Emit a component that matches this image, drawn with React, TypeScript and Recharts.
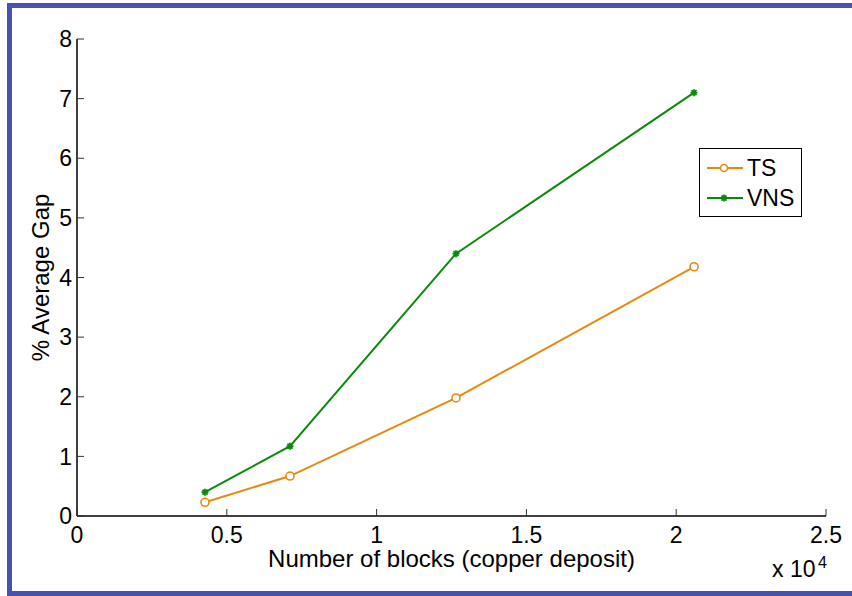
import { LineChart, Line, XAxis, YAxis, Legend } from "recharts";

// Average gap (%) of each heuristic against problem size
const blocks = [4272, 7110, 12650, 20595];
const tsGap = [0.23, 0.67, 1.98, 4.18];
const vnsGap = [0.4, 1.17, 4.4, 7.1];

const xTicks = [0, 5000, 10000, 15000, 20000, 25000];
const yTicks = [0, 1, 2, 3, 4, 5, 6, 7, 8];

const ORANGE = "#E8890C";
const GREEN = "#0A8A0A";
const FONT = "'Liberation Sans', Arial, Helvetica, sans-serif";
const FS = 23;
const LABEL_FS = 24;

// inward tick marks, matlab style
const TICK_LEN = 7;
const X_GAP = 11;
const Y_GAP = 5;

const data = blocks.map((b, i) => ({ blocks: b, ts: tsGap[i], vns: vnsGap[i] }));

function StarDot(props: any) {
  const { cx, cy } = props;
  if (cx == null || cy == null) return null;
  const r = 3.5;
  const d = r * 0.72;
  return (
    <g stroke={GREEN} strokeWidth={1.8}>
      <line x1={cx - r} y1={cy} x2={cx + r} y2={cy} />
      <line x1={cx} y1={cy - r} x2={cx} y2={cy + r} />
      <line x1={cx - d} y1={cy - d} x2={cx + d} y2={cy + d} />
      <line x1={cx - d} y1={cy + d} x2={cx + d} y2={cy - d} />
    </g>
  );
}

function BottomTick(props: any) {
  const { x, y, payload } = props;
  const axisY = y - X_GAP;
  return (
    <g>
      <line x1={x} y1={axisY} x2={x} y2={axisY - TICK_LEN} stroke="#333" strokeWidth={1} />
      <text x={x} y={y} dy="0.71em" textAnchor="middle" fontFamily={FONT} fontSize={FS} fill="#000">
        {String(payload.value / 10000)}
      </text>
    </g>
  );
}

function TopTick(props: any) {
  const { x, y } = props;
  return <line x1={x} y1={y} x2={x} y2={y + TICK_LEN} stroke="#333" strokeWidth={1} />;
}

function LeftTick(props: any) {
  const { x, y, payload } = props;
  const axisX = x + Y_GAP;
  return (
    <g>
      <line x1={axisX} y1={y} x2={axisX + TICK_LEN} y2={y} stroke="#333" strokeWidth={1} />
      <text x={x} y={y} dy="0.355em" textAnchor="end" fontFamily={FONT} fontSize={FS} fill="#000">
        {payload.value}
      </text>
    </g>
  );
}

function RightTick(props: any) {
  const { x, y } = props;
  return <line x1={x} y1={y} x2={x - TICK_LEN} y2={y} stroke="#333" strokeWidth={1} />;
}

function GapLegend() {
  const rows = [
    { name: "TS", color: ORANGE, y: 20 },
    { name: "VNS", color: GREEN, y: 50 },
  ];
  return (
    <svg width={103} height={69} style={{ display: "block" }}>
      <rect x={0.5} y={0.5} width={102} height={68} fill="#fff" stroke="#000" strokeWidth={1} />
      {rows.map((r) => (
        <g key={r.name}>
          <line x1={8} y1={r.y} x2={44} y2={r.y} stroke={r.color} strokeWidth={2} />
          {r.name === "TS" ? (
            <circle cx={25} cy={r.y} r={3.5} fill="#fff" stroke={ORANGE} strokeWidth={1.6} />
          ) : (
            <StarDot cx={25} cy={r.y} />
          )}
          <text x={48} y={r.y} dominantBaseline="central" fontFamily={FONT} fontSize={FS} fill="#000">
            {r.name}
          </text>
        </g>
      ))}
    </svg>
  );
}

const axisLine = { stroke: "#000", strokeWidth: 1.5 };

export default function App() {
  return (
    <div
      style={{
        position: "absolute",
        left: 0,
        top: 0,
        width: 852,
        height: 596,
        background: "#fff",
        overflow: "hidden",
      }}
    >
      <div
        style={{
          position: "absolute",
          left: 7,
          top: 3,
          width: 900,
          height: 593,
          border: "5px solid #4A4FB3",
          boxSizing: "border-box",
        }}
      />
      <LineChart
        width={852}
        height={596}
        data={data}
        margin={{ top: 39, right: 26, bottom: 50, left: 3 }}
      >
        <XAxis
          type="number"
          dataKey="blocks"
          domain={[0, 25000]}
          ticks={xTicks}
          interval={0}
          height={30}
          tickSize={0}
          tickMargin={X_GAP}
          tick={<BottomTick />}
          axisLine={axisLine}
          tickLine={false}
          label={{
            value: "Number of blocks (copper deposit)",
            position: "bottom",
            offset: 4,
            fontSize: LABEL_FS,
            fontFamily: FONT,
            fill: "#000",
          }}
        />
        <XAxis
          xAxisId="top"
          orientation="top"
          type="number"
          dataKey="blocks"
          domain={[0, 25000]}
          ticks={xTicks}
          interval={0}
          height={0}
          tickSize={0}
          tickMargin={0}
          tick={<TopTick />}
          axisLine={axisLine}
          tickLine={false}
        />
        <YAxis
          type="number"
          domain={[0, 8]}
          ticks={yTicks}
          interval={0}
          width={74}
          tickSize={0}
          tickMargin={Y_GAP}
          tick={<LeftTick />}
          axisLine={axisLine}
          tickLine={false}
          label={{
            value: "% Average Gap",
            angle: -90,
            position: "center",
            fontSize: LABEL_FS,
            fontFamily: FONT,
            fill: "#000",
          }}
        />
        <YAxis
          yAxisId="right"
          orientation="right"
          type="number"
          domain={[0, 8]}
          ticks={yTicks}
          interval={0}
          width={0}
          tickSize={0}
          tickMargin={0}
          tick={<RightTick />}
          axisLine={axisLine}
          tickLine={false}
        />
        <Legend
          layout="vertical"
          align="center"
          verticalAlign="middle"
          content={() => <GapLegend />}
          wrapperStyle={{ left: 699, top: 148, width: 103, height: 69 }}
        />
        <Line
          type="linear"
          dataKey="ts"
          name="TS"
          stroke={ORANGE}
          strokeWidth={2}
          dot={{ r: 4, fill: "#fff", stroke: ORANGE, strokeWidth: 1.6 }}
          activeDot={false}
          isAnimationActive={false}
        />
        <Line
          type="linear"
          dataKey="vns"
          name="VNS"
          stroke={GREEN}
          strokeWidth={2}
          dot={(p: any) => <StarDot key={p.index} {...p} />}
          activeDot={false}
          isAnimationActive={false}
        />
      </LineChart>
      <svg
        width={852}
        height={596}
        style={{ position: "absolute", left: 0, top: 0, pointerEvents: "none" }}
      >
        <text x={772} y={577} fontFamily={FONT} fontSize={FS} fill="#000">
          x 10
        </text>
        <text x={818} y={568} fontFamily={FONT} fontSize={16} fill="#000">
          4
        </text>
      </svg>
    </div>
  );
}
